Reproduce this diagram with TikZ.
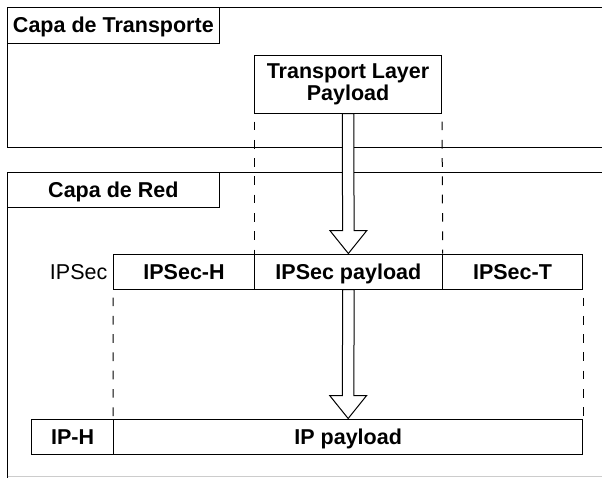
\documentclass[tikz,border=0pt]{standalone}
\usepackage{fontspec}
\setmainfont{Liberation Sans}
\usetikzlibrary{calc}
\begin{document}
\begin{tikzpicture}[x=1pt,y=-1pt,
  cell/.style={draw, line width=1pt, rectangle, inner sep=0pt,
    font=\bfseries\fontsize{21.5}{22}\selectfont, text height=15.4pt, text depth=0pt},
  multi/.style={draw, line width=1pt, rectangle, inner sep=0pt, align=center,
    font=\bfseries\fontsize{21.5}{22}\selectfont},
  plain/.style={inner sep=0pt, font=\fontsize{21.5}{22}\selectfont, text height=15.4pt, text depth=0pt},
  frame/.style={line width=1pt},
  guide/.style={line width=1pt, dash pattern=on 8.7pt off 9.6pt, dash phase=10.3pt},
  fat/.style={draw, line width=1pt, fill=white, line join=miter}]
\useasboundingbox (0,0) rectangle (602,477);
\begin{scope}
  \clip (0,0) rectangle (602,477);
  \draw[frame] (612,7.5) -- (7.7,7.5) -- (7.7,147) -- (612,147);
  \draw[frame] (612,172) -- (7.7,172) -- (7.7,490);
  \draw[line width=0.6pt, black!20] (7.7,476.5) -- (612,476.5);
\end{scope}

% layer labels
\node[cell, minimum width=211.3pt, minimum height=35.5pt] (lblT) at (113.35,25.25) {Capa de Transporte};
\node[cell, minimum width=211.3pt, minimum height=35pt] (lblR) at (113.35,189.5) {Capa de Red};

% transport payload
\node[multi, minimum width=187pt, minimum height=58pt] (tlp) at (348,84) {Transport Layer\\Payload};

% IPSec row
\node[plain, anchor=east] (ipsl) at (107.5,271.5) {IPSec};
\node[cell, minimum width=140.9pt, minimum height=35pt] (ipsh) at (184.05,271.5) {IPSec-H};
\node[cell, minimum width=187.7pt, minimum height=35pt] (ipsp) at (348.35,271.5) {IPSec payload};
\node[cell, minimum width=140.5pt, minimum height=35pt] (ipst) at (512.45,271.5) {IPSec-T};

% IP row
\node[cell, minimum width=82.1pt, minimum height=35pt] (iph) at (72.55,436.5) {IP-H};
\node[cell, minimum width=469.1pt, minimum height=35pt] (ipp) at (348.15,436.5) {IP payload};

% dashed guides
\draw[guide] (tlp.south west) -- (ipsp.north west);
\draw[guide] (tlp.south east) -- (ipsp.north east);
\draw[guide] (ipsh.south west) -- (ipp.north west);
\draw[guide] (ipst.south east) -- (ipp.north east);

% fat arrows
\newcommand{\fatarrow}[3]{%
  \draw[fat] ($(#1.south)+(-5.75,0)$) -- ($(#2.north)+(-5.75,-#3)$) -- ($(#2.north)+(-18.5,-#3)$)
    -- (#2.north) -- ($(#2.north)+(18.5,-#3)$) -- ($(#2.north)+(5.75,-#3)$)
    -- ($(#1.south)+(5.75,0)$) -- cycle;}
\fatarrow{tlp}{ipsp}{23}
\fatarrow{ipsp}{ipp}{23}
\end{tikzpicture}
\end{document}
